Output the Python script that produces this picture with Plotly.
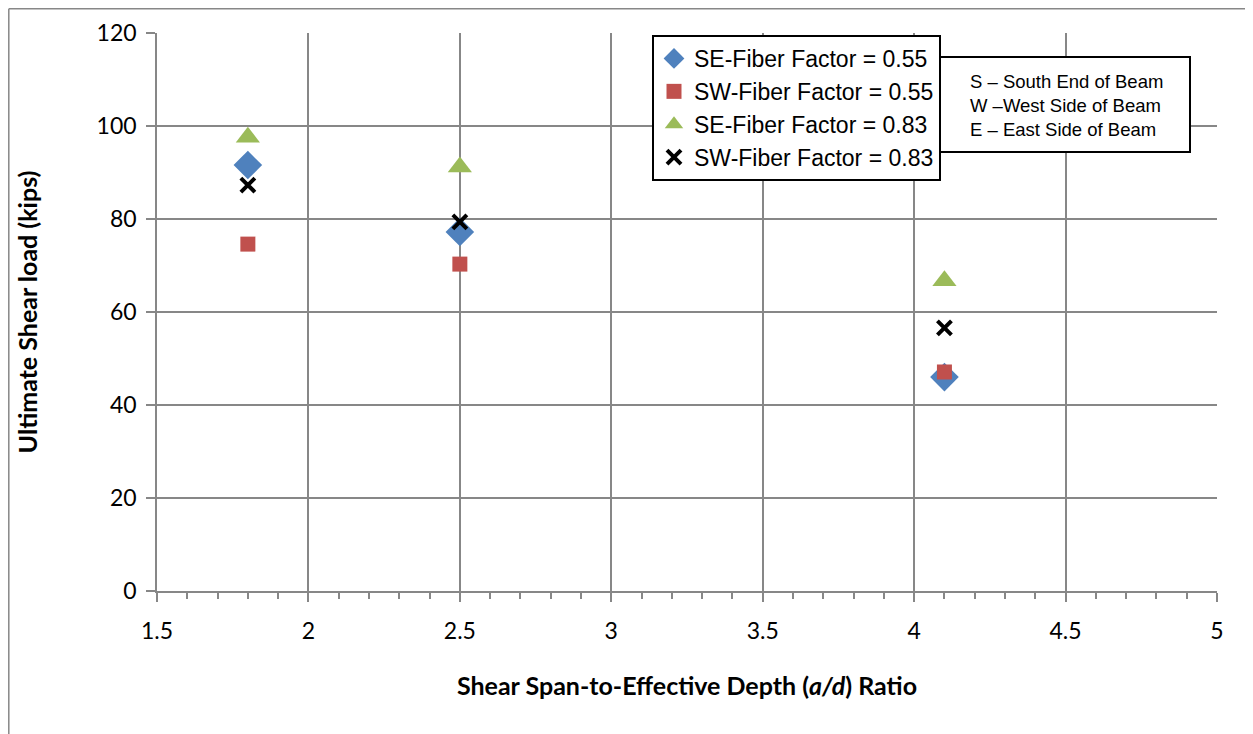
import plotly.graph_objects as go

x_vals = [1.8, 2.5, 4.1]
se_055 = [91.6, 77.2, 46.0]
sw_055 = [74.6, 70.3, 47.1]
se_083 = [97.6, 91.2, 66.7]
sw_083 = [87.3, 79.4, 56.6]
names = ["SE-Fiber Factor = 0.55", "SW-Fiber Factor = 0.55",
         "SE-Fiber Factor = 0.83", "SW-Fiber Factor = 0.83"]
note_lines = ["S \u2013 South End of Beam", "W \u2013West Side of Beam", "E \u2013 East Side of Beam"]

fig = go.Figure()
fig.add_trace(go.Scatter(x=x_vals, y=se_055, mode="markers", name=names[0],
                         marker=dict(symbol="diamond", size=22, color="#4F81BD")))
fig.add_trace(go.Scatter(x=x_vals, y=sw_055, mode="markers", name=names[1],
                         marker=dict(symbol="square", size=15, color="#C0504D")))
fig.add_trace(go.Scatter(x=x_vals, y=se_083, mode="markers", name=names[2],
                         marker=dict(symbol="triangle-up", size=21, color="#9BBB59")))
fig.add_trace(go.Scatter(x=x_vals, y=sw_083, mode="markers", name=names[3],
                         marker=dict(symbol="x-thin", size=14, color="black",
                                     line=dict(width=4, color="black"))))

# page is offset by the 8px body margin
OFF = 8
W, H = 1253 - OFF, 734 - OFF
L, R, T, B = 157 - OFF, 1253 - 1217, 33 - OFF, 734 - 591
pw, ph = W - L - R, H - T - B
def px(x): return (x - OFF - L) / pw
def py(y): return (H - B - (y - OFF)) / ph

grid = "#878787"
fig.update_layout(
    width=W, height=H, margin=dict(l=L, r=R, t=T, b=B, autoexpand=False),
    paper_bgcolor="white", plot_bgcolor="white",
    font=dict(family="Lato, Carlito, sans-serif", color="black"),
    xaxis=dict(range=[1.5, 5], dtick=0.5, tick0=1.5, showgrid=True, gridcolor=grid, gridwidth=1.5,
               showline=True, linecolor=grid, linewidth=1.5, ticks="outside", ticklen=9,
               tickcolor=grid, tickwidth=1.5, zeroline=False, automargin=False,
               ticklabelstandoff=10,
               tickfont=dict(size=23, family="Lato, sans-serif"),
               minor=dict(dtick=0.1, ticks="outside", ticklen=6, tickcolor=grid, tickwidth=1.5, showgrid=False),
               title=dict(text="<b>Shear Span-to-Effective Depth (<i>a/d</i>) Ratio</b>",
                          font=dict(size=25, family="Lato, sans-serif"), standoff=34)),
    yaxis=dict(range=[0, 120], dtick=20, showgrid=True, gridcolor=grid, gridwidth=1.5,
               showline=True, linecolor=grid, linewidth=1.5, ticks="outside", ticklen=9,
               tickcolor=grid, tickwidth=1.5, zeroline=False, automargin=False,
               ticklabelstandoff=5,
               tickfont=dict(size=23, family="Lato, sans-serif"),
               title=dict(text="<b>Ultimate Shear load (kips)</b>",
                          font=dict(size=25, family="Lato, sans-serif"), standoff=52)),
    legend=dict(x=px(652), y=py(35), xanchor="left", yanchor="top",
                bgcolor="white", bordercolor="black", borderwidth=2,
                font=dict(size=23, family="Liberation Sans Narrow, Arial Narrow, sans-serif"),
                tracegroupgap=0, itemsizing="trace"),
    showlegend=True,
)

fig.add_shape(type="rect", xref="paper", yref="paper",
              x0=px(900), x1=px(1190), y0=py(152), y1=py(57),
              line=dict(color="black", width=2), fillcolor="white", layer="above")
fig.add_annotation(xref="paper", yref="paper", x=px(968), y=py(105), xanchor="left", yanchor="middle",
                   text="<br>".join(note_lines), showarrow=False, align="left",
                   font=dict(size=18.5, family="Liberation Sans Narrow, Arial Narrow, sans-serif"))

# outer chart border
fig.add_shape(type="line", xref="paper", yref="paper", x0=px(8.8), x1=px(8.8), y0=py(740), y1=py(8.8),
              line=dict(color="#878787", width=1.5))
fig.add_shape(type="line", xref="paper", yref="paper", x0=px(8.8), x1=px(1260), y0=py(8.8), y1=py(8.8),
              line=dict(color="#878787", width=1.5))

fig.write_html("out.html")
